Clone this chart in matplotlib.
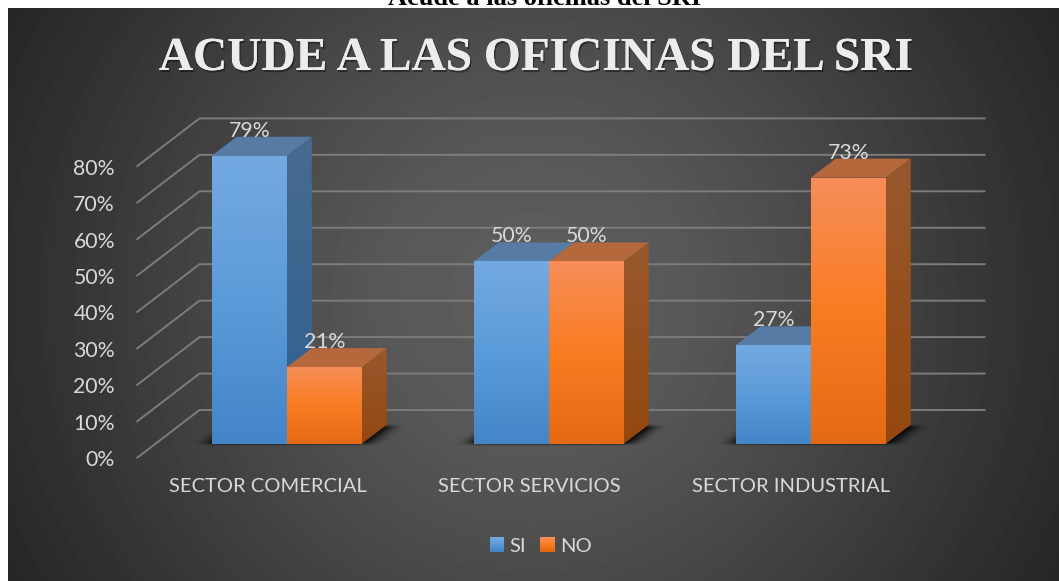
import numpy as np
import matplotlib
matplotlib.use("Agg")
import matplotlib.pyplot as plt
from matplotlib.colors import LinearSegmentedColormap as LSC
from matplotlib.legend_handler import HandlerBase
from matplotlib.patches import Patch, Polygon, Rectangle
import matplotlib.patheffects as pe

categories = ["SECTOR COMERCIAL", "SECTOR SERVICIOS", "SECTOR INDUSTRIAL"]
si_values = [79, 50, 27]
no_values = [21, 50, 73]
y_ticks = [0, 10, 20, 30, 40, 50, 60, 70, 80]
y_labels = ["0%", "10%", "20%", "30%", "40%", "50%", "60%", "70%", "80%"]
outer_title = "Acude a las oficinas del SRI"
chart_title = "ACUDE A LAS OFICINAS DEL SRI"

W, H = 1059, 581
FONT = "Lato"
TXT = "#d9d9d9"
BLUE = dict(front=["#74a9e1", "#5b9bd9", "#4485c8"], side=["#476b90", "#2f608f"], top="#567ca6")
ORANGE = dict(front=["#f68e5a", "#f97c22", "#e36a14"], side=["#98582e", "#94480f"], top="#b5683c")

fig = plt.figure(figsize=(W / 100, H / 100), dpi=100, facecolor="white")


def rect(x0, y0, x1, y1):
    return [x0 / W, 1 - y1 / H, (x1 - x0) / W, (y1 - y0) / H]


# background panel with radial gradient
bg = fig.add_axes(rect(8, 8, W, H), zorder=0)
bg.axis("off")
yy, xx = np.mgrid[8:H, 8:W]
d = np.hypot(xx - 533, yy - 295)
grey = np.interp(d, [0, 150, 285, 525, 620], [94, 88, 74, 46, 36]) / 255
bg.imshow(grey, cmap="gray", vmin=0, vmax=1, aspect="auto", interpolation="bilinear")

# main axes = front plane of the 3-D box
ax = fig.add_axes(rect(136.5, 166.7, 922.5, 458.3), zorder=1)
ax.patch.set_alpha(0)
ax.set_xlim(-0.5, 2.5)
ax.set_ylim(0, 80)
px = 786 / 3
py = 291.6 / 80
for s in ax.spines.values():
    s.set_visible(False)

# depth vectors in data units
WALL_X, WALL_Y = 63 / px, 48.3 / py
FLOOR_X, FLOOR_Y = 19.3 / px, 14.6 / py
DEPTH_X, DEPTH_Y = 25 / px, 19 / py
BAR_W = 75 / px

for v in y_ticks:
    ax.plot([-0.5, -0.5 + WALL_X, 2.5 + WALL_X], [v, v + WALL_Y, v + WALL_Y],
            color="#7c7c7c", lw=1.4, clip_on=False, zorder=1, solid_capstyle="butt")


def gradient(patch, colors, extent, z):
    cmap = LSC.from_list("g", colors)
    im = ax.imshow(np.linspace(0, 1, 256).reshape(-1, 1), cmap=cmap, extent=extent,
                   aspect="auto", zorder=z, interpolation="bilinear")
    ax.add_patch(patch)
    patch.set_visible(False)
    im.set_clip_box(fig.bbox)
    im.set_clip_path(patch)


def bar3d(x0, v, style, z):
    x0 += FLOOR_X
    x1 = x0 + BAR_W
    y0, y1 = FLOOR_Y, FLOOR_Y + v
    side = Polygon([(x1, y0), (x1, y1), (x1 + DEPTH_X, y1 + DEPTH_Y), (x1 + DEPTH_X, y0 + DEPTH_Y)],
                   transform=ax.transData)
    gradient(side, style["side"], (x1, x1 + DEPTH_X, y0, y1 + DEPTH_Y), z)
    ax.add_patch(Polygon([(x0, y1), (x1, y1), (x1 + DEPTH_X, y1 + DEPTH_Y), (x0 + DEPTH_X, y1 + DEPTH_Y)],
                         fc=style["top"], ec="none", zorder=z, clip_on=False))
    front = Rectangle((x0, y0), BAR_W, v, transform=ax.transData)
    gradient(front, style["front"], (x0, x1, y0, y1), z + 0.5)
    ax.text(x0 + BAR_W / 2, y1 + DEPTH_Y, f"{v}%", ha="center", va="baseline", color=TXT,
            fontsize=15.3, family=FONT, zorder=20, clip_on=False)


def shadow(x0, x1):
    """Soft floor shadow: a parallelogram blurred mainly sideways."""
    x0 += FLOOR_X
    x1 += FLOOR_X
    nx, ny = 300, 60
    pad_x, pad_y = 50 / px, 8 / py
    xs = np.linspace(x0 - pad_x, x1 + DEPTH_X + pad_x, nx)
    ys = np.linspace(FLOOR_Y - pad_y, FLOOR_Y + DEPTH_Y + pad_y, ny)
    X, Y = np.meshgrid(xs, ys)
    t = (Y - FLOOR_Y) / DEPTH_Y
    u = X - DEPTH_X * t
    m = ((t >= 0) & (t <= 0.98) & (u >= x0 - 6 / px) & (u <= x1 + 6 / px)).astype(float)
    sx = (xs[1] - xs[0]) * px
    sy = (ys[1] - ys[0]) * py
    nkx = max(3, int(18 / sx)) | 1
    nky = max(3, int(3 / sy)) | 1
    for _ in range(2):
        m = np.apply_along_axis(lambda r: np.convolve(r, np.ones(nkx) / nkx, mode="same"), 1, m)
        m = np.apply_along_axis(lambda r: np.convolve(r, np.ones(nky) / nky, mode="same"), 0, m)
    rgba = np.zeros((ny, nx, 4))
    rgba[..., 3] = np.clip(m * 1.05, 0, 0.95)
    im = ax.imshow(rgba, extent=(xs[0], xs[-1], ys[0], ys[-1]), origin="lower", aspect="auto",
                   zorder=2, interpolation="bilinear")
    im.set_clip_box(fig.bbox)


z = 3
for i, (a, b) in enumerate(zip(si_values, no_values)):
    shadow(i - BAR_W, i + BAR_W)
    bar3d(i - BAR_W, a, BLUE, z)
    bar3d(i, b, ORANGE, z + 1)
    z += 2

ax.set_xlim(-0.5, 2.5)
ax.set_ylim(0, 80)
ax.set_xticks(range(3), categories)
ax.set_yticks(y_ticks, y_labels)
ax.tick_params(length=0, colors=TXT)
ax.tick_params(axis="x", pad=14, labelsize=14.5)
ax.tick_params(axis="y", pad=15.5, labelsize=15.3)
for t in ax.get_xticklabels() + ax.get_yticklabels():
    t.set_family(FONT)


class GradHandler(HandlerBase):
    def __init__(self, colors):
        super().__init__()
        self.cmap = LSC.from_list("h", colors)

    def create_artists(self, legend, orig, xd, yd, w, h, fs, trans):
        n = 14
        return [Rectangle((-xd, -yd + h * (n - 1 - k) / n), w, h / n * 1.1,
                          fc=self.cmap(k / (n - 1)), ec="none", transform=trans)
                for k in range(n)]


hs = [Patch(label="SI"), Patch(label="NO")]
leg = fig.legend(handles=hs, loc="center", bbox_to_anchor=(541 / W, 1 - 546 / H), ncol=2, frameon=False,
                 prop=dict(family=FONT, size=14.5), labelcolor=TXT, handlelength=0.7, handleheight=0.7,
                 handletextpad=0.3, columnspacing=0.7,
                 handler_map={hs[0]: GradHandler(BLUE["front"]), hs[1]: GradHandler(ORANGE["front"])})

fig.text(536 / W, 1 - 70 / H, chart_title, ha="center", va="baseline", family="Liberation Serif",
         weight="bold", fontsize=34.1, color="#ececec", zorder=5,
         path_effects=[pe.withSimplePatchShadow(offset=(1, -1.5), alpha=0.4, shadow_rgbFace="black"),
                       pe.Normal()])
fig.text(545 / W, 1 - 5 / H, outer_title, ha="center", va="baseline", family="Liberation Serif",
         weight="bold", fontsize=19, color="black", zorder=0.5)

fig.savefig("out.png", dpi=100, facecolor="white")
